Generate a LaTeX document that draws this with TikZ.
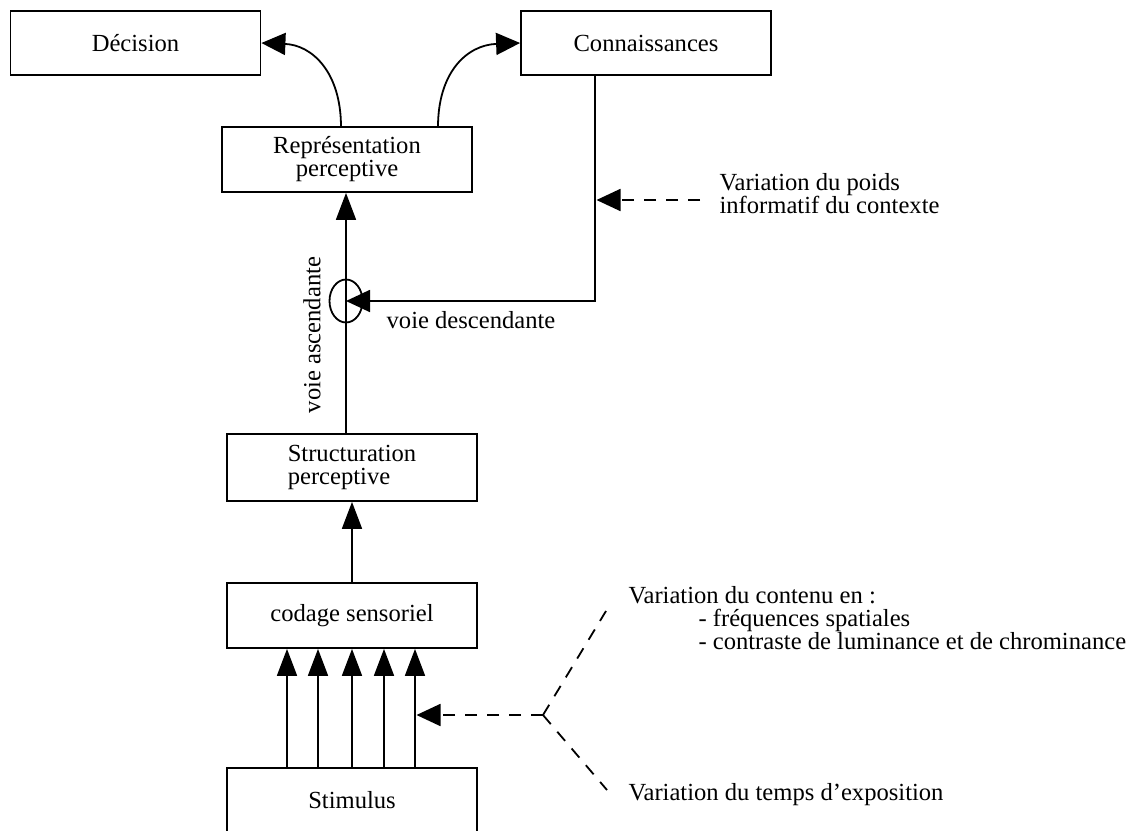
\documentclass[tikz,border=0pt]{standalone}
\usepackage{fontspec}
\setmainfont{Liberation Serif}
\usetikzlibrary{arrows.meta,shapes.geometric}
\begin{document}
\begin{tikzpicture}[x=1pt,y=-1pt,
  every node/.style={font=\fontsize{24.6}{23}\selectfont},
  box/.style={draw, line width=1.8pt, minimum width=250pt, inner sep=0pt},
  ln/.style={line width=1.8pt},
  vtip/.style={-{Triangle[length=27pt,width=20pt]}},
  htip/.style={-{Triangle[length=24pt,width=22pt]}},
  dsh/.style={line width=1.8pt, dash pattern=on 12pt off 10pt}]
\useasboundingbox (0,0) rectangle (1135,830);
\clip (0,0) rectangle (1135,830);
% boxes
\node[box, minimum height=64pt] (dec) at (135.5,43) {Décision};
\node[box, minimum height=64pt] (conn) at (646,43) {Connaissances};
\node[box, minimum height=65pt, align=center] (rep) at (347,159.5) {Représentation\\perceptive};
\node[box, minimum height=67pt, align=left] (struct) at (352,467.5) {Structuration\\perceptive};
\node[box, minimum height=65pt] (cod) at (352,615.5) {codage sensoriel};
\node[box, minimum height=64pt] (stim) at (352,800) {Stimulus};
\node[draw, ellipse, line width=1.8pt, minimum width=33pt, minimum height=43pt, inner sep=0pt] (junc) at (346,301) {};
% helper coordinates
\coordinate (rl) at (341,127);
\coordinate (rr) at (438,127);
\coordinate (kx) at (595,0);
\coordinate (pd) at (700,200);
\coordinate (br) at (543,715);
\coordinate (t1) at (606,611);
\coordinate (t2) at (607,790);
% curved arrows
\draw[ln,htip] (rl) .. controls (341,72) and (312,45) .. (dec.east);
\draw[ln,htip] (rr) .. controls (438,72) and (467,45) .. (conn.west);
% ascending path
\draw[ln,vtip] (junc |- struct.north) -- (junc |- rep.south);
\draw[ln,vtip] (cod.north) -- (struct.south);
\foreach \dx in {-65,-34,0,32,63}
  \draw[ln,vtip] ([xshift=\dx pt]stim.north) -- ([xshift=\dx pt]cod.south);
% descending path
\draw[ln,htip] (conn.south -| kx) -- (kx |- junc) -- (junc.center);
% dashed influences
\draw[dsh,htip] (pd) -- ([xshift=1.5pt]kx |- pd);
\coordinate (a5) at ([xshift=64.5pt]cod.south);
\draw[dsh,htip] (br) -- (a5 |- br);
\draw[dsh] (br) -- (t1);
\draw[dsh] (br) -- (t2);
% labels
\node (desc) at (471,320) {voie descendante};
\node[rotate=90] (asc) at (312,335) {voie ascendante};
\node[anchor=west, align=left] (poids) at (716,194) {Variation du poids\\informatif du contexte};
\node[anchor=west, align=left] (contenu) at (625,618) {Variation du contenu en :\\\hspace*{70pt}- fréquences spatiales\\\hspace*{70pt}- contraste de luminance et de chrominance};
\node[anchor=west] (temps) at (625,795) {Variation du temps d’exposition};
\end{tikzpicture}
\end{document}
